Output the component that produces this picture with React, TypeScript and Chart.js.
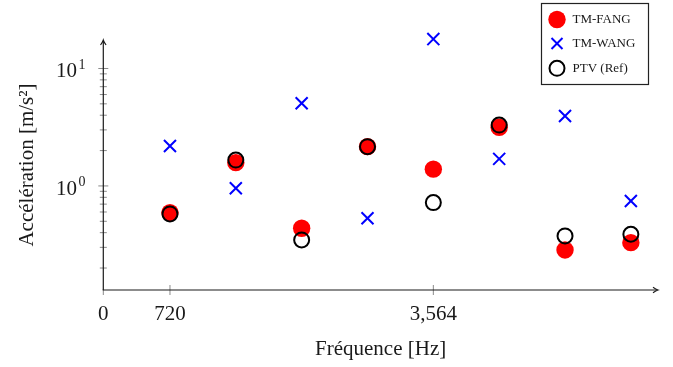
import { useEffect, useRef } from "react";
import { Chart, registerables } from "chart.js";

Chart.register(...registerables);

// ---- data ----
const frequencies = [720, 1431, 2142, 2853, 3564, 4275, 4986, 5697];
const tmFang = [0.593, 1.58, 0.436, 2.16, 1.39, 3.16, 0.285, 0.329];
const tmWang = [2.19, 0.956, 5.06, 0.531, 17.8, 1.7, 3.94, 0.745];
const ptvRef = [0.578, 1.66, 0.347, 2.16, 0.721, 3.3, 0.375, 0.388];
const seriesLabels = ["TM-FANG", "TM-WANG", "PTV (Ref)"];
const xTickValues = [0, 720, 3564];
const yMajorTicks = [1, 10];
const yMinorTicks = [0.2, 0.3, 0.4, 0.5, 0.6, 0.7, 0.8, 0.9, 2, 3, 4, 5, 6, 7, 8, 9];
const xTitle = "Fréquence [Hz]";
const yTitle = "Accélération [m/s²]";

const FONT = '"Liberation Serif", "DejaVu Serif", serif';
const RED = "#ff0000";
const BLUE = "#0000ff";

function line(ctx: CanvasRenderingContext2D, x1: number, y1: number, x2: number, y2: number) {
  ctx.beginPath();
  ctx.moveTo(x1, y1);
  ctx.lineTo(x2, y2);
  ctx.stroke();
}

const axesPlugin = {
  id: "pgfAxes",
  beforeDatasetsDraw(chart: any) {
    const { ctx, chartArea } = chart;
    const { left, right, top, bottom } = chartArea;
    const x = chart.scales.x;
    const y = chart.scales.y;
    ctx.save();
    // ticks
    ctx.strokeStyle = "#8a8a8a";
    ctx.lineWidth = 1;
    yMajorTicks.forEach((v) => {
      const py = y.getPixelForValue(v);
      line(ctx, left - 5, py, left + 5, py);
    });
    yMinorTicks.forEach((v) => {
      const py = y.getPixelForValue(v);
      line(ctx, left - 3.5, py, left + 3.5, py);
    });
    xTickValues.forEach((v) => {
      const px = x.getPixelForValue(v);
      if (v === 0) line(ctx, px, bottom, px, bottom + 5);
      else line(ctx, px, bottom - 5, px, bottom + 5);
    });
    // axis lines
    ctx.strokeStyle = "#1a1a1a";
    ctx.lineWidth = 1.2;
    line(ctx, left, bottom, left, top + 1);
    line(ctx, left - 0.6, bottom, right - 1, bottom);
    // arrow heads
    ctx.lineWidth = 1.1;
    ctx.beginPath();
    ctx.moveTo(left - 2.8, top + 5);
    ctx.quadraticCurveTo(left - 0.6, top + 2, left, top);
    ctx.quadraticCurveTo(left + 0.6, top + 2, left + 2.8, top + 5);
    ctx.stroke();
    ctx.beginPath();
    ctx.moveTo(right - 5, bottom - 2.8);
    ctx.quadraticCurveTo(right - 2, bottom - 0.6, right, bottom);
    ctx.quadraticCurveTo(right - 2, bottom + 0.6, right - 5, bottom + 2.8);
    ctx.stroke();
    // y tick labels 10^n
    ctx.fillStyle = "#1a1a1a";
    ctx.textBaseline = "alphabetic";
    yMajorTicks.forEach((v) => {
      const py = y.getPixelForValue(v);
      const exp = String(Math.round(Math.log10(v)));
      ctx.font = `21px ${FONT}`;
      ctx.textAlign = "right";
      ctx.fillText("10", 77, py + 9);
      ctx.font = `14px ${FONT}`;
      ctx.textAlign = "left";
      ctx.fillText(exp, 78.5, py + 0.5);
    });
    ctx.restore();
  },
  afterDraw(chart: any) {
    const { ctx } = chart;
    ctx.save();
    // legend box
    const bx = 541.5, by = 3.5, bw = 107, bh = 81;
    ctx.fillStyle = "#ffffff";
    ctx.fillRect(bx, by, bw, bh);
    ctx.strokeStyle = "#222";
    ctx.lineWidth = 1.2;
    ctx.strokeRect(bx, by, bw, bh);
    const mx = 557;
    const rows = [19.5, 43.5, 68.3];
    // marker 1: red disc
    ctx.fillStyle = RED;
    ctx.beginPath();
    ctx.arc(mx, rows[0], 8.7, 0, Math.PI * 2);
    ctx.fill();
    // marker 2: blue x
    ctx.strokeStyle = BLUE;
    ctx.lineWidth = 2;
    const d = 5.5;
    line(ctx, mx - d, rows[1] - d, mx + d, rows[1] + d);
    line(ctx, mx - d, rows[1] + d, mx + d, rows[1] - d);
    // marker 3: black ring
    ctx.strokeStyle = "#000";
    ctx.lineWidth = 2;
    ctx.beginPath();
    ctx.arc(mx, rows[2], 7.5, 0, Math.PI * 2);
    ctx.stroke();
    // labels
    ctx.fillStyle = "#1a1a1a";
    ctx.font = `13px ${FONT}`;
    ctx.textAlign = "left";
    ctx.textBaseline = "middle";
    seriesLabels.forEach((t, i) => ctx.fillText(t, 572.5, rows[i]));
    ctx.restore();
  },
};

export default function App() {
  const canvasRef = useRef<HTMLCanvasElement | null>(null);

  useEffect(() => {
    document.body.style.margin = "0";
    const canvas = canvasRef.current;
    if (!canvas) return;
    const toPts = (vals: number[]) => vals.map((v, i) => ({ x: frequencies[i], y: v }));
    const chart = new Chart(canvas, {
      type: "scatter",
      data: {
        datasets: [
          {
            label: seriesLabels[0],
            data: toPts(tmFang),
            pointStyle: "circle",
            pointRadius: 8.7,
            pointHoverRadius: 8.7,
            backgroundColor: RED,
            borderColor: RED,
            borderWidth: 0,
            order: 3,
            clip: false as any,
          },
          {
            label: seriesLabels[1],
            data: toPts(tmWang),
            pointStyle: "crossRot",
            pointRadius: 8.5,
            pointHoverRadius: 8.5,
            backgroundColor: BLUE,
            borderColor: BLUE,
            borderWidth: 2,
            order: 2,
            clip: false as any,
          },
          {
            label: seriesLabels[2],
            data: toPts(ptvRef),
            pointStyle: "circle",
            pointRadius: 7.5,
            pointHoverRadius: 7.5,
            backgroundColor: "rgba(0,0,0,0)",
            borderColor: "#000000",
            borderWidth: 2,
            order: 1,
            clip: false as any,
          },
        ],
      },
      options: {
        responsive: false,
        animation: false,
        devicePixelRatio: 1,
        layout: { padding: { left: 0, top: 40, right: 15, bottom: 0 } },
        plugins: {
          legend: { display: false },
          tooltip: { enabled: false },
        },
        scales: {
          x: {
            type: "linear",
            min: 0,
            max: 5990,
            grid: { display: false, drawTicks: false },
            border: { display: false },
            afterBuildTicks: (scale: any) => {
              scale.ticks = xTickValues.map((v) => ({ value: v }));
            },
            afterFit: (scale: any) => {
              scale.height = 77;
            },
            ticks: {
              autoSkip: false,
              maxRotation: 0,
              padding: 12,
              color: "#1a1a1a",
              font: { family: FONT, size: 21 },
              callback: (v: any) => Number(v).toLocaleString("en-US"),
            },
            title: {
              display: true,
              text: xTitle,
              color: "#1a1a1a",
              font: { family: FONT, size: 21 },
              padding: { top: 0, bottom: 5.4 },
            },
          },
          y: {
            type: "logarithmic",
            min: 0.13,
            max: 17.48,
            grid: { display: false, drawTicks: false },
            border: { display: false },
            ticks: { display: false },
            afterFit: (scale: any) => {
              scale.width = 103.3;
            },
            title: {
              display: true,
              text: yTitle,
              color: "#1a1a1a",
              font: { family: FONT, size: 21 },
              padding: { top: 14.9, bottom: 0 },
            },
          },
        },
      },
      plugins: [axesPlugin as any],
    });
    return () => chart.destroy();
  }, []);

  return (
    <div style={{ width: 673, height: 367 }}>
      <canvas ref={canvasRef} width={673} height={367} style={{ display: "block" }} />
    </div>
  );
}
